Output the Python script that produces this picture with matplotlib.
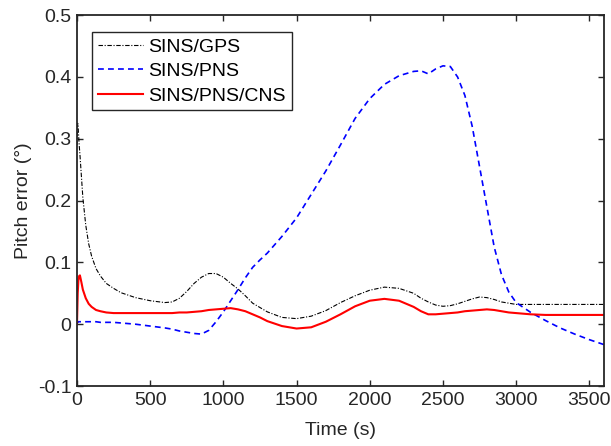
import matplotlib
matplotlib.use("Agg")
import matplotlib.pyplot as plt

# time samples (s)
time_s = [0, 5, 10, 15, 20, 30, 40, 60, 80, 100, 130, 160, 200, 250, 300, 400, 500,
          600, 650, 700, 750, 800, 850, 900, 950, 1000, 1050, 1100, 1150, 1200, 1250,
          1300, 1400, 1500, 1600, 1700, 1800, 1900, 2000, 2100, 2200, 2300, 2350, 2400,
          2450, 2500, 2550, 2600, 2650, 2700, 2750, 2800, 2850, 2900, 2950, 3000, 3100,
          3200, 3300, 3400, 3500, 3600]

sins_gps = [0.29, 0.325, 0.31, 0.29, 0.275, 0.24, 0.205, 0.16, 0.13, 0.11, 0.09, 0.078,
            0.066, 0.058, 0.051, 0.043, 0.038,
            0.035, 0.036, 0.042, 0.053, 0.066, 0.076, 0.082, 0.082, 0.076, 0.066, 0.057,
            0.046, 0.034, 0.027,
            0.02, 0.011, 0.009, 0.013, 0.022, 0.035, 0.046, 0.055, 0.06, 0.058, 0.05,
            0.042, 0.036,
            0.031, 0.029, 0.03, 0.033, 0.037, 0.041, 0.044, 0.043, 0.04, 0.036, 0.034,
            0.032, 0.032,
            0.032, 0.032, 0.032, 0.032, 0.032]

sins_pns = [0.0, 0.004, 0.004, 0.004, 0.004, 0.004, 0.004, 0.004, 0.004, 0.004, 0.004,
            0.003, 0.003, 0.003, 0.002, 0.0, -0.003,
            -0.006, -0.008, -0.011, -0.013, -0.015, -0.016, -0.01, 0.004, 0.02, 0.038,
            0.056, 0.075, 0.092, 0.104,
            0.115, 0.142, 0.172, 0.21, 0.248, 0.29, 0.333, 0.365, 0.388, 0.402, 0.409,
            0.41, 0.405,
            0.413, 0.418, 0.417, 0.4, 0.37, 0.32, 0.255, 0.19, 0.125, 0.08, 0.052,
            0.035, 0.019,
            0.006, -0.006, -0.016, -0.025, -0.033]

sins_pns_cns = [0.0, 0.05, 0.072, 0.078, 0.079, 0.068, 0.056, 0.042, 0.033, 0.028,
                0.023, 0.021, 0.019, 0.018, 0.018, 0.018, 0.018,
                0.018, 0.018, 0.019, 0.019, 0.02, 0.021, 0.023, 0.024, 0.025, 0.026,
                0.024, 0.021, 0.016, 0.011,
                0.005, -0.003, -0.007, -0.005, 0.004, 0.016, 0.029, 0.038, 0.041, 0.038,
                0.028, 0.021, 0.016,
                0.016, 0.017, 0.018, 0.019, 0.021, 0.022, 0.023, 0.024, 0.023, 0.021,
                0.019, 0.018, 0.016,
                0.015, 0.015, 0.015, 0.015, 0.015]

labels = ["SINS/GPS", "SINS/PNS", "SINS/PNS/CNS"]
x_ticks = [0, 500, 1000, 1500, 2000, 2500, 3000, 3500]
y_ticks = [-0.1, 0, 0.1, 0.2, 0.3, 0.4, 0.5]
y_tick_labels = ["-0.1", "0", "0.1", "0.2", "0.3", "0.4", "0.5"]

plt.rcParams['font.family'] = ['Liberation Sans', 'DejaVu Sans']
plt.rcParams['font.size'] = 14

fig = plt.figure(figsize=(6.11, 4.46), dpi=100)
ax = fig.add_axes([0.126, 0.1345, 0.8625, 0.8315])

ax.plot(time_s, sins_gps, color='black', linestyle='-.', linewidth=0.8,
        dashes=(4, 1.5, 1, 1.5), label=labels[0])
ax.plot(time_s, sins_pns, color='blue', linestyle='--', linewidth=1.2,
        dashes=(3.5, 2.5), label=labels[1])
ax.plot(time_s, sins_pns_cns, color='red', linestyle='-', linewidth=1.5,
        label=labels[2])

ax.set_xlim(0, 3600)
ax.set_ylim(-0.1, 0.5)
ax.set_xticks(x_ticks)
ax.set_yticks(y_ticks)
ax.set_yticklabels(y_tick_labels)
ax.tick_params(direction='in', top=True, right=True, length=4, width=1,
               colors='#262626', labelcolor='#262626', pad=4)
for s in ax.spines.values():
    s.set_color('#262626')
    s.set_linewidth(1.3)

ax.set_xlabel("Time (s)", color='#262626', labelpad=10)
ax.set_ylabel("Pitch error (°)", color='#262626', labelpad=4)

leg = ax.legend(loc='upper left', bbox_to_anchor=(0.0285, 0.954), borderaxespad=0,
                fancybox=False, edgecolor='#262626', framealpha=1,
                handlelength=2.3, handletextpad=0.3, labelspacing=0.35,
                borderpad=0.3)
leg.get_frame().set_linewidth(1.0)

fig.savefig("out.png", dpi=100)
